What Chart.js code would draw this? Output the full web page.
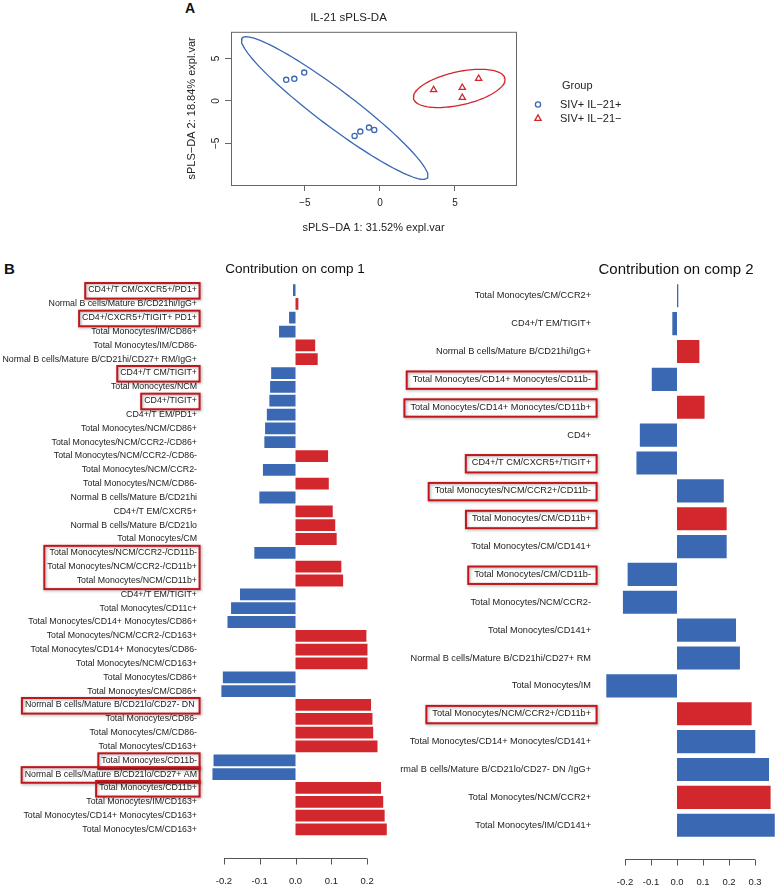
<!DOCTYPE html>
<html>
<head>
<meta charset="utf-8">
<script src="https://cdn.jsdelivr.net/npm/chart.js@4.4.0/dist/chart.umd.min.js"></script>
<style>
  body { margin: 0; background: #fff; width: 775px; height: 885px; position: relative; overflow: hidden;
         font-family: Arial, "Liberation Sans", sans-serif; }
  canvas { position: absolute; }
  .tag { position: absolute; font-weight: bold; color: #111; }
</style>
</head>
<body>
<div class="tag" style="left:185px; top:0px; font-size:14px;">A</div>
<div class="tag" style="left:4px; top:260px; font-size:15px;">B</div>
<canvas id="scatter" width="505" height="250" style="left:123px; top:0px;"></canvas>
<canvas id="comp1" width="400" height="630" style="left:0px; top:255px;"></canvas>
<canvas id="comp2" width="375" height="630" style="left:400px; top:255px;"></canvas>
<script>
// ---- panel A: sample scores ----
var posX = [-6.25, -5.71, -5.05, -1.69, -1.31, -0.73, -0.38];
var posY = [2.48, 2.60, 3.34, -4.13, -3.62, -3.15, -3.42];
var negX = [3.58, 5.49, 5.49, 6.58];
var negY = [1.30, 1.57, 0.39, 2.63];
var scatterTicks = [-5, 0, 5];

// ---- panel B: loadings ----
var comp1Labels = [
  "CD4+/T CM/CXCR5+/PD1+", "Normal B cells/Mature B/CD21hi/IgG+", "CD4+/CXCR5+/TIGIT+ PD1+",
  "Total Monocytes/IM/CD86+", "Total Monocytes/IM/CD86-", "Normal B cells/Mature B/CD21hi/CD27+ RM/IgG+",
  "CD4+/T CM/TIGIT+", "Total Monocytes/NCM", "CD4+/TIGIT+", "CD4+/T EM/PD1+",
  "Total Monocytes/NCM/CD86+", "Total Monocytes/NCM/CCR2-/CD86+", "Total Monocytes/NCM/CCR2-/CD86-",
  "Total Monocytes/NCM/CCR2-", "Total Monocytes/NCM/CD86-", "Normal B cells/Mature B/CD21hi",
  "CD4+/T EM/CXCR5+", "Normal B cells/Mature B/CD21lo", "Total Monocytes/CM",
  "Total Monocytes/NCM/CCR2-/CD11b-", "Total Monocytes/NCM/CCR2-/CD11b+", "Total Monocytes/NCM/CD11b+",
  "CD4+/T EM/TIGIT+", "Total Monocytes/CD11c+", "Total Monocytes/CD14+ Monocytes/CD86+",
  "Total Monocytes/NCM/CCR2-/CD163+", "Total Monocytes/CD14+ Monocytes/CD86-", "Total Monocytes/NCM/CD163+",
  "Total Monocytes/CD86+", "Total Monocytes/CM/CD86+", "Normal B cells/Mature B/CD21lo/CD27- DN ",
  "Total Monocytes/CD86-", "Total Monocytes/CM/CD86-", "Total Monocytes/CD163+",
  "Total Monocytes/CD11b-", "Normal B cells/Mature B/CD21lo/CD27+ AM", "Total Monocytes/CD11b+",
  "Total Monocytes/IM/CD163+", "Total Monocytes/CD14+ Monocytes/CD163+", "Total Monocytes/CM/CD163+"
];
var comp1Values = [
  -0.007, 0.008, -0.018, -0.046, 0.055, 0.062, -0.068, -0.071, -0.073, -0.080,
  -0.085, -0.087, 0.091, -0.091, 0.093, -0.101, 0.104, 0.111, 0.115, -0.115,
  0.128, 0.133, -0.155, -0.180, -0.190, 0.198, 0.201, 0.201, -0.203, -0.207,
  0.211, 0.215, 0.217, 0.229, -0.229, -0.232, 0.239, 0.245, 0.249, 0.255
];
var comp1Group = [
  "pos", "neg", "pos", "pos", "neg", "neg", "pos", "pos", "pos", "pos",
  "pos", "pos", "neg", "pos", "neg", "pos", "neg", "neg", "neg", "pos",
  "neg", "neg", "pos", "pos", "pos", "neg", "neg", "neg", "pos", "pos",
  "neg", "neg", "neg", "neg", "pos", "pos", "neg", "neg", "neg", "neg"
];
var comp1Boxes = [[0, 0], [2, 2], [6, 6], [8, 8], [19, 21], [30, 30], [34, 34], [35, 35], [36, 36]];
var comp1Ticks = [-0.2, -0.1, 0, 0.1, 0.2];

var comp2Labels = [
  "Total Monocytes/CM/CCR2+", "CD4+/T EM/TIGIT+", "Normal B cells/Mature B/CD21hi/IgG+",
  "Total Monocytes/CD14+ Monocytes/CD11b-", "Total Monocytes/CD14+ Monocytes/CD11b+", "CD4+",
  "CD4+/T CM/CXCR5+/TIGIT+", "Total Monocytes/NCM/CCR2+/CD11b-", "Total Monocytes/CM/CD11b+",
  "Total Monocytes/CM/CD141+", "Total Monocytes/CM/CD11b-", "Total Monocytes/NCM/CCR2-",
  "Total Monocytes/CD141+", "Normal B cells/Mature B/CD21hi/CD27+ RM", "Total Monocytes/IM",
  "Total Monocytes/NCM/CCR2+/CD11b+", "Total Monocytes/CD14+ Monocytes/CD141+",
  "Normal B cells/Mature B/CD21lo/CD27- DN /IgG+", "Total Monocytes/NCM/CCR2+", "Total Monocytes/IM/CD141+"
];
var comp2Values = [
  0.005, -0.018, 0.086, -0.097, 0.106, -0.143, -0.156, 0.180, 0.191, 0.191,
  -0.190, -0.208, 0.227, 0.242, -0.272, 0.287, 0.301, 0.354, 0.360, 0.376
];
var comp2Group = [
  "pos", "pos", "neg", "pos", "neg", "pos", "pos", "pos", "neg", "pos",
  "pos", "pos", "pos", "pos", "pos", "neg", "pos", "pos", "neg", "pos"
];
var comp2Boxes = [[3, 3], [4, 4], [6, 6], [7, 7], [8, 8], [10, 10], [15, 15]];
var comp2Ticks = [-0.2, -0.1, 0, 0.1, 0.2, 0.3];

var BLUE = "#3a68b2";
var RED = "#d2272d";
var BOX_RED = "#c0161c";
var FONT = 'Arial, "Liberation Sans", sans-serif';

Chart.defaults.font.family = FONT;
Chart.defaults.color = "#222";

// 95% data ellipse (same formula as the R ellipse package)
function dataEllipse(xs, ys, n) {
  var m = xs.length, mx = 0, my = 0;
  for (var i = 0; i < m; i++) { mx += xs[i]; my += ys[i]; }
  mx /= m; my /= m;
  var sxx = 0, syy = 0, sxy = 0;
  for (i = 0; i < m; i++) {
    sxx += (xs[i] - mx) * (xs[i] - mx);
    syy += (ys[i] - my) * (ys[i] - my);
    sxy += (xs[i] - mx) * (ys[i] - my);
  }
  var sx = Math.sqrt(sxx / (m - 1)), sy = Math.sqrt(syy / (m - 1));
  var d = Math.acos(sxy / (m - 1) / (sx * sy));
  var t = Math.sqrt(-2 * Math.log(0.05));
  var pts = [];
  for (i = 0; i <= n; i++) {
    var a = 2 * Math.PI * i / n;
    pts.push({x: mx + t * sx * Math.cos(a + d / 2), y: my + t * sy * Math.cos(a - d / 2)});
  }
  return pts;
}

function toPts(xs, ys) { return xs.map(function (x, i) { return {x: x, y: ys[i]}; }); }

// box, rotated y labels and legend in R style
var rFrame = {
  id: "rFrame",
  afterDraw: function (chart) {
    var ctx = chart.ctx, a = chart.chartArea, ys = chart.scales.y;
    ctx.save();
    ctx.strokeStyle = "#666";
    ctx.lineWidth = 1;
    ctx.strokeRect(a.left + 0.5, a.top + 0.5, a.right - a.left, a.bottom - a.top);
    ctx.fillStyle = "#222";
    ctx.font = "10px " + FONT;
    ctx.textAlign = "center";
    ctx.textBaseline = "middle";
    ys.ticks.forEach(function (t) {
      ctx.save();
      ctx.translate(a.left - 15, ys.getPixelForValue(t.value));
      ctx.rotate(-Math.PI / 2);
      ctx.fillText(String(t.value).replace("-", "\u2212"), 0, 0);
      ctx.restore();
    });
    // legend
    var lx = a.right + 22;
    ctx.textAlign = "left";
    ctx.font = "11px " + FONT;
    ctx.fillText("Group", a.right + 46, 86);
    ctx.fillText("SIV+ IL\u221221+", a.right + 44, 104.5);
    ctx.fillText("SIV+ IL\u221221\u2212", a.right + 44, 118.5);
    ctx.fillStyle = "rgba(0,0,0,0)";
    ctx.lineWidth = 1.3;
    ctx.strokeStyle = BLUE;
    Chart.helpers.drawPoint(ctx, {pointStyle: "circle", radius: 2.6, borderWidth: 1.3, rotation: 0}, lx, 104.5);
    ctx.strokeStyle = RED;
    Chart.helpers.drawPoint(ctx, {pointStyle: "triangle", radius: 3.6, borderWidth: 1.3, rotation: 0}, lx, 118.5);
    ctx.restore();
  }
};

new Chart(document.getElementById("scatter"), {
  type: "scatter",
  data: {
    datasets: [
      {data: dataEllipse(posX, posY, 120), showLine: true, borderColor: BLUE, borderWidth: 1.3, pointRadius: 0, fill: false},
      {data: dataEllipse(negX, negY, 120), showLine: true, borderColor: RED, borderWidth: 1.3, pointRadius: 0, fill: false},
      {data: toPts(posX, posY), pointStyle: "circle", pointRadius: 2.6, borderColor: BLUE, borderWidth: 1.3, backgroundColor: "rgba(0,0,0,0)"},
      {data: toPts(negX, negY), pointStyle: "triangle", pointRadius: 3.6, borderColor: RED, borderWidth: 1.3, backgroundColor: "rgba(0,0,0,0)"}
    ]
  },
  options: {
    responsive: false,
    animation: false,
    layout: {padding: {left: 58, right: 112, top: 0, bottom: 12}},
    plugins: {
      legend: {display: false},
      tooltip: {enabled: false},
      title: {display: true, text: "IL-21 sPLS-DA", font: {size: 11.5, weight: "normal"}, color: "#222", padding: {top: 11, bottom: 7}}
    },
    scales: {
      x: {
        min: -9.93, max: 9.07,
        grid: {display: true, drawOnChartArea: false, drawTicks: true, tickLength: 6, color: "#666"},
        border: {display: false},
        ticks: {font: {size: 10}, padding: 6, color: "#222", callback: function (v) { return String(v).replace("-", "\u2212"); }},
        afterBuildTicks: function (s) { s.ticks = scatterTicks.map(function (v) { return {value: v}; }); },
        afterFit: function (s) { s.height = 53; },
        title: {display: true, text: "sPLS\u2212DA 1: 31.52% expl.var", font: {size: 11}, color: "#222", padding: {top: 0, bottom: 3}}
      },
      y: {
        min: -9.92, max: 8.15,
        grid: {display: true, drawOnChartArea: false, drawTicks: true, tickLength: 6, color: "#666"},
        border: {display: false},
        ticks: {display: false},
        afterBuildTicks: function (s) { s.ticks = scatterTicks.map(function (v) { return {value: v}; }); },
        afterFit: function (s) { s.width = 50; },
        title: {display: true, text: "sPLS\u2212DA 2: 18.84% expl.var", font: {size: 11}, color: "#222", padding: {top: 4, bottom: 0}}
      }
    }
  },
  plugins: [rFrame]
});

// title, R-style bottom axis and the red label boxes
var barExtras = {
  id: "barExtras",
  afterDraw: function (chart, args, o) {
    var ctx = chart.ctx, a = chart.chartArea, xs = chart.scales.x, ys = chart.scales.y;
    ctx.save();
    ctx.fillStyle = "#111";
    ctx.font = o.titleSize + "px " + FONT;
    ctx.textAlign = "center";
    ctx.textBaseline = "middle";
    ctx.fillText(o.title, o.titleX, o.titleY);

    var ay = Math.round(a.bottom + o.gap) + 0.5;
    var x0 = xs.getPixelForValue(o.ticks[0]), x1 = xs.getPixelForValue(o.ticks[o.ticks.length - 1]);
    ctx.strokeStyle = "#555";
    ctx.lineWidth = 1;
    ctx.beginPath();
    ctx.moveTo(x0, ay); ctx.lineTo(x1, ay);
    o.ticks.forEach(function (t) {
      var px = Math.round(xs.getPixelForValue(t)) + 0.5;
      ctx.moveTo(px, ay); ctx.lineTo(px, ay + 6);
    });
    ctx.stroke();

    ctx.font = o.labelSize + "px " + FONT;
    var right = ys.right - o.labelPad;
    ctx.strokeStyle = BOX_RED;
    ctx.lineWidth = 2;
    ctx.shadowColor = "rgba(0,0,0,0.35)";
    ctx.shadowBlur = 3;
    ctx.shadowOffsetX = 1;
    ctx.shadowOffsetY = 1;
    o.boxes.forEach(function (b) {
      var w = 0;
      for (var i = b[0]; i <= b[1]; i++) w = Math.max(w, ctx.measureText(chart.data.labels[i]).width);
      var top = ys.getPixelForValue(b[0]) - o.boxH / 2 + 0.8;
      var bot = ys.getPixelForValue(b[1]) + o.boxH / 2 + 0.8;
      ctx.strokeRect(right - w - o.padL, top, w + o.padL + o.padR, bot - top);
    });
    ctx.restore();
  }
};

function contribChart(id, labels, values, groups, cfg) {
  return new Chart(document.getElementById(id), {
    type: "bar",
    data: {
      labels: labels,
      datasets: [{
        data: values,
        backgroundColor: groups.map(function (g) { return g === "pos" ? BLUE : RED; }),
        barPercentage: cfg.barPct,
        categoryPercentage: 1
      }]
    },
    options: {
      indexAxis: "y",
      responsive: false,
      animation: false,
      layout: {padding: {top: cfg.top, right: cfg.right, left: 0, bottom: 0}},
      plugins: {
        legend: {display: false},
        tooltip: {enabled: false},
        barExtras: {
          title: cfg.title, titleX: cfg.titleX, titleY: 14.5, titleSize: cfg.titleSize,
          ticks: cfg.ticks, gap: cfg.gap, boxes: cfg.boxes, boxH: cfg.boxH,
          padL: cfg.padL, padR: cfg.padR, labelPad: 8, labelSize: cfg.labelSize
        }
      },
      scales: {
        y: {
          grid: {display: false, drawTicks: false},
          border: {display: false},
          ticks: {autoSkip: false, padding: 8, color: "#222", font: {size: cfg.labelSize}},
          afterFit: function (s) { s.width = cfg.yWidth; }
        },
        x: {
          min: cfg.min, max: cfg.max,
          // tick marks are drawn by barExtras; tickLength only pushes the labels down
          grid: {display: false, drawTicks: true, tickLength: cfg.tickPad},
          border: {display: false},
          ticks: {padding: 0, color: "#222", font: {size: 9.5}, callback: function (v) { return v.toFixed(1); }},
          afterBuildTicks: function (s) { s.ticks = cfg.ticks.map(function (v) { return {value: v}; }); },
          afterFit: function (s) { s.height = cfg.xHeight; s.paddingLeft = 0; s.paddingRight = 0; }
        }
      }
    },
    plugins: [barExtras]
  });
}

contribChart("comp1", comp1Labels, comp1Values, comp1Group, {
  title: "Contribution on comp 1", titleX: 295, titleSize: 13.5,
  top: 28.1, right: 4, yWidth: 205, xHeight: 48.6, tickPad: 39, gap: 22,
  min: -0.2528, max: 0.2807, ticks: comp1Ticks, barPct: 0.85,
  boxes: comp1Boxes, boxH: 15.6, padL: 3, padR: 2.6, labelSize: 8.8
});

contribChart("comp2", comp2Labels, comp2Values, comp2Group, {
  title: "Contribution on comp 2", titleX: 276, titleSize: 15,
  top: 26.8, right: 0, yWidth: 199, xHeight: 45.8, tickPad: 37, gap: 20,
  min: -0.30, max: 0.3769, ticks: comp2Ticks, barPct: 0.83,
  boxes: comp2Boxes, boxH: 17.4, padL: 6, padR: 5.6, labelSize: 9.2
});
</script>
</body>
</html>
